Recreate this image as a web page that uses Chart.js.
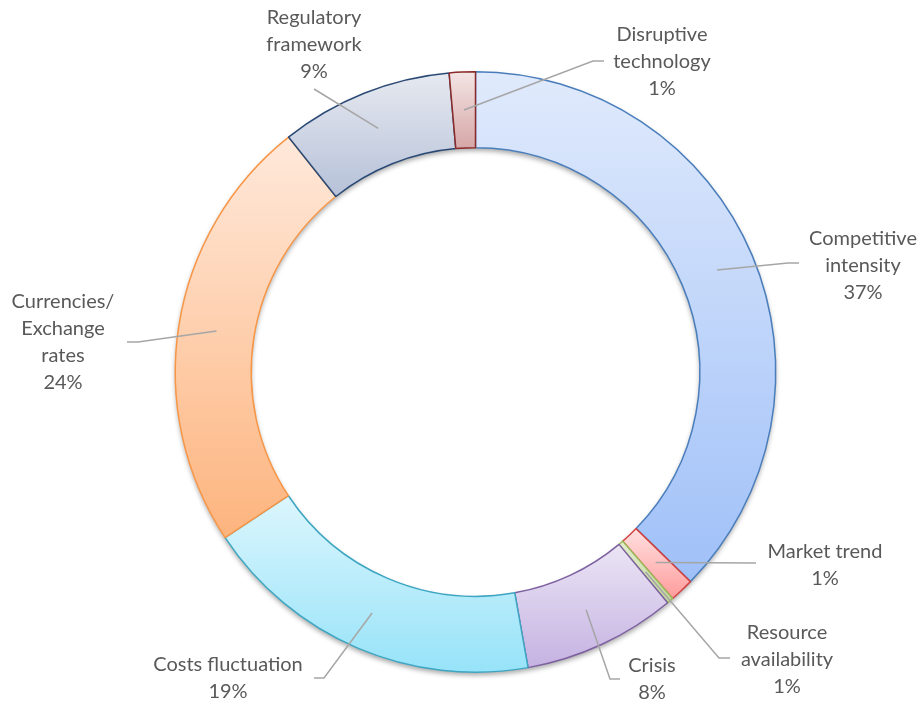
<!DOCTYPE html>
<html>
<head>
<meta charset="utf-8">
<script src="https://cdn.jsdelivr.net/npm/chart.js@4.4.1/dist/chart.umd.min.js"></script>
<style>
  html, body { margin: 0; padding: 0; background: #fff; }
  #wrap { width: 922px; height: 704px; position: relative; }
</style>
</head>
<body>
<div id="wrap"><canvas id="riskChart"></canvas></div>
<script>
// Data (shares in %, clockwise from 12 o'clock)
const categories = [
    ['Competitive', 'intensity'],
    ['Market trend'],
    ['Resource', 'availability'],
    ['Crisis'],
    ['Costs fluctuation'],
    ['Currencies/', 'Exchange', 'rates'],
    ['Regulatory', 'framework'],
    ['Disruptive', 'technology']
];
const shares = [37.3, 1.3, 0.35, 8.25, 18.5, 23.6, 9.3, 1.4];
const percentLabels = ['37%', '1%', '1%', '8%', '19%', '24%', '9%', '1%'];

// Styles
const topColors    = ['#e0eafc', '#ffe0e0', '#e3edd0', '#ebe5f5', '#dcf6fd', '#ffe9db', '#e6e9f0', '#f4e5e5'];
const bottomColors = ['#9fc0f8', '#ff9c9c', '#c3d69b', '#c5b2e2', '#97e3f9', '#fdb47e', '#b6c1d8', '#d6a6a6'];
const borderColors = ['#4a7ebb', '#d04444', '#9bbb59', '#7d60a0', '#3ea6c2', '#f79646', '#2a4a75', '#8a2a2a'];

// Label boxes: text center x, first line y, leader elbow and end
const labelLayout = [
    { x: 863, y: 239, elbow: [788, 263], end: [799, 263] },
    { x: 825, y: 552, elbow: [756, 563], end: [756, 563] },
    { x: 787, y: 633, elbow: [719, 658], end: [730, 658] },
    { x: 652, y: 666, elbow: [610, 679], end: [620, 679] },
    { x: 228, y: 665, elbow: [324, 678], end: [314, 678] },
    { x: 63,  y: 302, elbow: [138, 342], end: [127, 342] },
    { x: 314, y: 18,  elbow: [314, 89],  end: [314, 89] },
    { x: 662, y: 35,  elbow: [593, 61],  end: [604, 61] }
];
const lineHeight = 27;

// Per-slice vertical gradient + soft shadow under the ring
const sliceStyle = {
    id: 'sliceStyle',
    beforeDatasetsDraw(chart) {
        const ctx = chart.ctx;
        const arcs = chart.getDatasetMeta(0).data;
        arcs.forEach((arc, i) => {
            const p = arc.getProps(['x', 'y', 'startAngle', 'endAngle', 'innerRadius', 'outerRadius'], true);
            let minY = Infinity, maxY = -Infinity;
            for (let k = 0; k <= 60; k++) {
                const a = p.startAngle + (p.endAngle - p.startAngle) * k / 60;
                [p.innerRadius, p.outerRadius].forEach(r => {
                    const py = p.y + r * Math.sin(a);
                    minY = Math.min(minY, py);
                    maxY = Math.max(maxY, py);
                });
            }
            const g = ctx.createLinearGradient(0, minY, 0, maxY);
            g.addColorStop(0, topColors[i]);
            g.addColorStop(1, bottomColors[i]);
            arc.options.backgroundColor = g;
        });
        // shadow ring
        const a0 = arcs[0];
        ctx.save();
        ctx.shadowColor = 'rgba(0,0,0,0.35)';
        ctx.shadowBlur = 5;
        ctx.shadowOffsetY = 3;
        ctx.fillStyle = '#ffffff';
        ctx.beginPath();
        ctx.arc(a0.x, a0.y, a0.outerRadius, 0, Math.PI * 2);
        ctx.arc(a0.x, a0.y, a0.innerRadius, 0, Math.PI * 2, true);
        ctx.fill();
        ctx.restore();
    }
};

const leaderLabels = {
    id: 'leaderLabels',
    afterDatasetsDraw(chart) {
        const ctx = chart.ctx;
        const arcs = chart.getDatasetMeta(0).data;
        ctx.save();
        ctx.strokeStyle = '#a6a6a6';
        ctx.lineWidth = 1.5;
        arcs.forEach((arc, i) => {
            const c = arc.getCenterPoint();
            const L = labelLayout[i];
            ctx.beginPath();
            ctx.moveTo(c.x, c.y);
            ctx.lineTo(L.elbow[0], L.elbow[1]);
            ctx.lineTo(L.end[0], L.end[1]);
            ctx.stroke();
        });
        ctx.fillStyle = '#595959';
        ctx.font = '20px Lato, "Open Sans", sans-serif';
        ctx.textAlign = 'center';
        ctx.textBaseline = 'middle';
        categories.forEach((lines, i) => {
            const L = labelLayout[i];
            const texts = lines.concat([percentLabels[i]]);
            texts.forEach((t, j) => ctx.fillText(t, L.x, L.y + j * lineHeight));
        });
        ctx.restore();
    }
};

new Chart(document.getElementById('riskChart'), {
    type: 'doughnut',
    data: {
        labels: categories.map(c => c.join(' ')),
        datasets: [{
            data: shares,
            backgroundColor: topColors,
            borderColor: borderColors,
            borderWidth: 1.5,
            borderAlign: 'center'
        }]
    },
    options: {
        responsive: true,
        maintainAspectRatio: false,
        animation: false,
        cutout: '74.7%',
        layout: { padding: { left: 174.5, right: 145.5, top: 71, bottom: 31 } },
        plugins: {
            legend: { display: false },
            tooltip: { enabled: false }
        }
    },
    plugins: [sliceStyle, leaderLabels]
});
</script>
</body>
</html>
